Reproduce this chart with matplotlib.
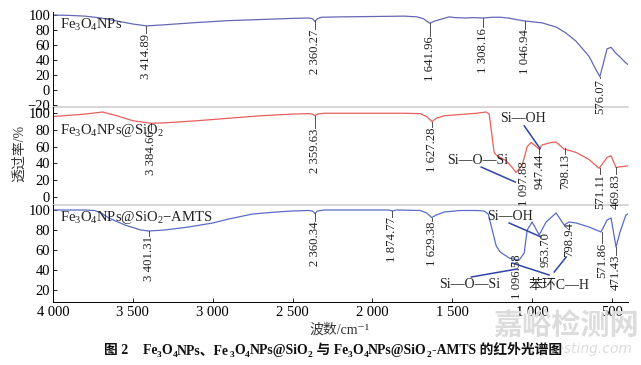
import matplotlib
matplotlib.use("Agg")
import matplotlib.pyplot as plt

plt.rcParams['font.family'] = ['Liberation Serif', 'Noto Sans CJK SC', 'DejaVu Sans']
plt.rcParams['mathtext.fontset'] = 'custom'
plt.rcParams['mathtext.rm'] = 'Liberation Serif'
plt.rcParams['mathtext.it'] = 'Liberation Serif:italic'
plt.rcParams['mathtext.bf'] = 'Liberation Serif:bold'
plt.rcParams['mathtext.default'] = 'rm'

# ---------------- data ----------------
wn1 = [4000, 3900, 3800, 3700, 3600, 3500, 3415, 3300, 3100, 2900, 2700, 2500, 2400, 2375, 2360, 2345,
       2320, 2200, 2000, 1800, 1720, 1680, 1642, 1610, 1560, 1520, 1480, 1420, 1370, 1308, 1250, 1200,
       1150, 1100, 1047, 1000, 937, 850, 788, 725, 644, 600, 576, 555, 531, 506, 480, 450, 413, 400]
t1 = [100, 99.5, 98.5, 96, 92, 88, 85.5, 87, 90, 92.5, 94, 95.5, 96, 95, 91.5, 95,
      97, 97.5, 98, 98.5, 97.5, 95, 89, 92, 95, 97.5, 96.5, 96, 96.5, 96, 97, 97,
      96, 94, 92, 91, 89.5, 84, 76, 65, 45, 27, 18, 35, 55, 57, 50, 44, 36, 34]

wn2 = [4000, 3900, 3800, 3690, 3600, 3500, 3385, 3300, 3100, 2900, 2700, 2500, 2400, 2375, 2360, 2345,
       2300, 2000, 1800, 1700, 1660, 1627, 1600, 1550, 1450, 1350, 1288, 1269, 1238, 1225, 1190, 1162,
       1125, 1100, 1062, 1031, 1006, 956, 938, 880, 850, 800, 760, 725, 644, 581, 550, 531, 506, 475,
       440, 413, 400]
t2 = [96, 97.5, 99, 101.5, 97, 91, 88, 88.5, 91, 94, 97, 99, 99.5, 99, 97, 99,
      100, 100, 100, 99.5, 96, 90, 94, 97, 98.5, 100, 101.5, 99, 53, 50, 46, 43,
      35, 29, 38, 60, 65, 57, 62, 65, 65.5, 57, 55, 53, 44.6, 34, 42, 47, 49, 35,
      36, 36.5, 37]

wn3 = [4000, 3800, 3740, 3700, 3650, 3550, 3450, 3400, 3300, 3150, 3000, 2900, 2750, 2600, 2500, 2400,
       2375, 2360, 2345, 2300, 2000, 1900, 1875, 1850, 1700, 1660, 1629, 1600, 1550, 1450, 1350, 1300,
       1275, 1250, 1225, 1200, 1144, 1081, 1050, 1031, 1000, 956, 913, 850, 800, 769, 725, 644, 569, 531,
       506, 475, 450, 413, 400]
t3 = [100, 100, 99.5, 97, 92, 85, 80, 79, 80, 83, 87, 91, 96, 98, 99, 99.5,
      99, 96.5, 99, 100, 100, 100, 99, 100, 99.5, 97, 92.5, 95, 98, 99.5, 99.5, 99,
      96, 80, 64, 58, 52, 50, 57, 80, 88, 75, 88, 97, 85, 88, 87, 83, 78, 90,
      92, 63, 78, 95, 96]

names = [r"Fe$_3$O$_4$NPs", r"Fe$_3$O$_4$NPs@SiO$_2$", r"Fe$_3$O$_4$NPs@SiO$_2$−AMTS"]
colors = ["#6468b4", "#e8605c", "#5a6cc6"]

# peak labels: (text, x of text, top value of text, curve value for tick or None)
peaks1 = [("3 414.89", 3414.89, 75, 85.5), ("2 360.27", 2360.27, 81, 91.5),
          ("1 641.96", 1641.96, 72, 89), ("1 308.16", 1308.16, 83, 96.5),
          ("1 046.94", 1046.94, 81, 92), ("576.07", 576.07, 15, 18)]
peaks2 = [("3 384.66", 3384.66, 80, 88), ("2 359.63", 2359.63, 82, 97),
          ("1 627.28", 1627.28, 83, 90), ("1 097.88", 1050, 42, None),
          ("947.44", 956, 51, 58), ("798.13", 794, 51, 58),
          ("571.11", 575, 27, 34), ("469.83", 475, 27, 35)]
peaks3 = [("3 401.31", 3401.31, 74, 79), ("2 360.34", 2360.34, 89, 96.5),
          ("1 874.77", 1874.77, 93, 99), ("1 629.38", 1629.38, 89, 92.5),
          ("1 096.58", 1094, 56, None), ("953.70", 915, 78, None),
          ("798.94", 769, 88, None), ("571.86", 562, 67, 78), ("471.43", 475, 55, 63)]

# group annotations: (text, x, y) and leader segments
groups2 = [("Si—OH", 1056, 93.5), ("Si—O—Si", 1344, 43)]
leaders2 = [((1050, 85), (950, 57.5)), ((1319, 35.5), (1106, 17.5))]
groups3 = [("Si—OH", 1138, 94), ("Si—O—Si", 1394, 25), ("苯环C—H", 831, 25)]
leaders3 = [((1144, 87), (944, 73)), ((1381, 33), (1094, 41)),
            ((1125, 47), (894, 35)), ((862, 38), (787, 53))]

ylims = [(-22.5, 104), (-10, 107.5), (8, 105)]
yticks = [[-20, 0, 20, 40, 60, 80, 100], [0, 20, 40, 60, 80, 100], [20, 40, 60, 80, 100]]
xticks = [4000, 3500, 3000, 2500, 2000, 1500, 1000, 500]
xticklabels = ["4 000", "3 500", "3 000", "2 500", "2 000", "1 500", "1 000", "500"]

caption = [("图 2", 'n'), ("    Fe", 'n'), ("3", 's'), ("O", 'n'), ("4", 's'), ("NPs、Fe", 'n'),
           ("3", 's'), ("O", 'n'), ("4", 's'), ("NPs@SiO", 'n'), ("2", 's'), (" 与 Fe", 'n'),
           ("3", 's'), ("O", 'n'), ("4", 's'), ("NPs@SiO", 'n'), ("2", 's'),
           ("-AMTS 的红外光谱图", 'n')]

# ---------------- figure ----------------
W, H = 641, 365
fig = plt.figure(figsize=(W / 100, H / 100), dpi=100)
left, right = 53 / W, 628 / W
bounds_px = [(12, 107), (107, 205), (205, 302)]
axes = []
for (top, bot) in bounds_px:
    ax = fig.add_axes([left, 1 - bot / H, right - left, (bot - top) / H])
    axes.append(ax)

data = [(wn1, t1), (wn2, t2), (wn3, t3)]
peaks = [peaks1, peaks2, peaks3]
name_y = [0.865, 0.765, 0.866]
for i, ax in enumerate(axes):
    wn, t = data[i]
    ax.plot(wn, t, color=colors[i], lw=0.9)
    ax.set_xlim(4000, 400)
    ax.set_ylim(*ylims[i])
    ax.set_yticks(yticks[i])
    ax.tick_params(axis='y', direction='in', length=3, width=0.6, labelsize=10.5, pad=2)
    ax.set_facecolor('none')
    ax.spines['right'].set_visible(False)
    ax.spines['top'].set_visible(False)
    ax.spines['left'].set_linewidth(0.7)
    if i < 2:
        ax.spines['bottom'].set_color('#d0d0d0')
        ax.spines['bottom'].set_linewidth(1.2)
        ax.set_xticks([])
    else:
        ax.spines['bottom'].set_linewidth(0.7)
        ax.set_xticks(xticks)
        ax.set_xticklabels(xticklabels)
        ax.tick_params(axis='x', direction='in', length=3, width=0.6, labelsize=10.5, pad=3)
    ax.text(0.012, name_y[i], names[i], transform=ax.transAxes,
            fontsize=10.5, ha='left', va='center', color='#222222')
    for (lab, x, top, cv) in peaks[i]:
        ax.text(x, top, lab, rotation=90, ha='center', va='top', fontsize=9.2,
                color='#222222', clip_on=False)
        if cv is not None:
            ax.plot([x, x], [cv, top + 0.5], color='#333333', lw=0.6)

for (lab, x, y) in groups2:
    axes[1].text(x, y, lab, ha='center', va='center', fontsize=10, color='#222222')
for (a, b) in leaders2:
    axes[1].plot([a[0], b[0]], [a[1], b[1]], color='#2f45a8', lw=1.1)
for (lab, x, y) in groups3:
    axes[2].text(x, y, lab, ha='center', va='center', fontsize=10, color='#222222')
for (a, b) in leaders3:
    axes[2].plot([a[0], b[0]], [a[1], b[1]], color='#2f45a8', lw=1.1)

fig.text(20 / W, 1 - 153 / H, "透过率/%", rotation=90, ha='center', va='center', fontsize=10,
         color='#333333')
fig.text(340 / W, 1 - 330 / H, "波数/cm⁻¹", ha='center', va='center', fontsize=10,
         color='#333333')

# watermark
fig.text(566 / W, 1 - 327 / H, "嘉峪检测网", ha='center', va='center', fontsize=21,
         color='#dcdcdc', fontweight='bold', zorder=0)
fig.text(578 / W, 1 - 349 / H, "AnyTesting.com", ha='center', va='center', fontsize=10,
         color='#dcdcdc', style='italic', family='DejaVu Sans', zorder=0)

# caption built from pieces (normal + subscript)
renderer = fig.canvas.get_renderer()
cap_size = 9.9
pieces = []
total = 0.0
for s, kind in caption:
    fs = cap_size * 0.68 if kind == 's' else cap_size
    tt = fig.text(0, 0, s, fontsize=fs, fontweight='bold', color='#111111', va='baseline', ha='left')
    w = tt.get_window_extent(renderer).width
    pieces.append((tt, w, kind))
    total += w
x0 = 333 - total / 2
base = 354
for tt, w, kind in pieces:
    yb = base + (3 if kind == 's' else 0)
    tt.set_position((x0 / W, 1 - yb / H))
    x0 += w

fig.savefig("out.png", dpi=100)
